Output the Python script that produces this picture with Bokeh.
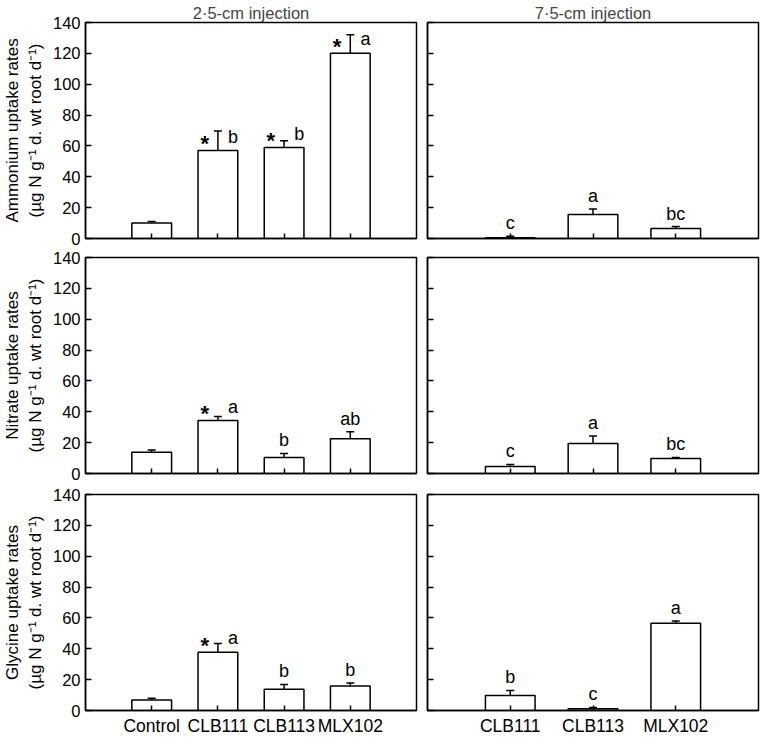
from bokeh.plotting import figure
from bokeh.models import ColumnDataSource, FixedTicker, Whisker, TeeHead, Range1d
from bokeh.layouts import column, row
from bokeh.embed import file_html
from bokeh.resources import INLINE
from bokeh.core.properties import value

# ---------------- data ----------------
categories_25 = ["Control", "CLB111", "CLB113", "MLX102"]
categories_75 = ["CLB111", "CLB113", "MLX102"]
y_ticks = [0, 20, 40, 60, 80, 100, 120, 140]

ammonium_25 = [10.0, 57.0, 59.0, 120.0]
ammonium_25_se = [1.0, 12.6, 4.3, 12.0]
ammonium_25_letters = ["", "b", "b", "a"]
ammonium_25_stars = [False, True, True, True]

ammonium_75 = [0.5, 15.5, 6.5]
ammonium_75_se = [1.0, 3.6, 1.2]
ammonium_75_letters = ["c", "a", "bc"]

nitrate_25 = [13.7, 34.4, 10.3, 22.5]
nitrate_25_se = [1.5, 2.6, 2.6, 4.5]
nitrate_25_letters = ["", "a", "b", "ab"]
nitrate_25_stars = [False, True, False, False]

nitrate_75 = [4.5, 19.5, 9.7]
nitrate_75_se = [1.3, 4.8, 0.6]
nitrate_75_letters = ["c", "a", "bc"]

glycine_25 = [6.8, 37.7, 13.7, 15.8]
glycine_25_se = [1.1, 5.7, 3.2, 2.1]
glycine_25_letters = ["", "a", "b", "b"]
glycine_25_stars = [False, True, False, False]

glycine_75 = [9.8, 1.1, 56.6]
glycine_75_se = [3.2, 0.8, 1.4]
glycine_75_letters = ["b", "c", "a"]

titles = ["2\u00b75-cm injection", "7\u00b75-cm injection"]
unit_line = "(\u00b5g N g\u207b\u00b9 d. wt root d\u207b\u00b9)"
y_labels = ["Ammonium uptake rates", "Nitrate uptake rates", "Glycine uptake rates"]

FONT = "Liberation Sans"


def panel(cats, vals, ses, letters, stars, left, top_row, bottom_row, ylabel=None, title=None):
    n = len(cats)
    xs = list(range(1, n + 1))
    p = figure(
        output_backend="svg", toolbar_location=None,
        frame_width=331, frame_height=216,
        x_range=Range1d(0, n + 1), y_range=Range1d(0, 140),
        min_border_left=76 if left else 6,
        min_border_right=5 if left else 7,
        min_border_top=20 if top_row else (11 if bottom_row else 10),
        min_border_bottom=25 if bottom_row else (9 if top_row else 10),
        background_fill_color="white", border_fill_color="white",
    )
    p.xgrid.visible = False
    p.ygrid.visible = False
    p.outline_line_color = "black"
    p.outline_line_width = 1.5
    p.outline_line_alpha = 1.0

    if title:
        p.title.text = title
        p.title.text_font = FONT
        p.title.text_font_size = "16.5px"
        p.title.text_font_style = "normal"
        p.title.align = "center"
        p.title.standoff = 2
        p.title.offset = 0

    # y axis
    ya = p.yaxis[0]
    ya.ticker = FixedTicker(ticks=y_ticks)
    ya.major_tick_in = 6
    ya.major_tick_out = 0
    ya.minor_tick_line_color = None
    ya.axis_line_color = "black"
    ya.axis_line_width = 1.5
    ya.major_tick_line_color = "black"
    ya.major_tick_line_width = 1.5
    ya.major_label_text_font = FONT
    ya.major_label_text_font_size = "16.5px"
    ya.major_label_text_color = "black"
    if left:
        ya.major_label_standoff = 5
        ya.axis_label = ylabel
        ya.axis_label_text_font = FONT
        ya.axis_label_text_font_size = "17px"
        ya.axis_label_text_font_style = "normal"
        ya.axis_label_text_color = "black"
        ya.axis_label_standoff = 5
    else:
        ya.major_label_standoff = 0
        ya.major_label_overrides = {t: "" for t in y_ticks}

    # x axis
    xa = p.xaxis[0]
    xa.ticker = FixedTicker(ticks=xs)
    xa.major_tick_in = 5
    xa.major_tick_out = 0
    xa.minor_tick_line_color = None
    xa.axis_line_color = "black"
    xa.axis_line_width = 1.5
    xa.major_tick_line_color = "black"
    xa.major_tick_line_width = 1.5
    xa.major_label_text_font = FONT
    xa.major_label_text_font_size = "17.5px"
    xa.major_label_text_color = "black"
    if bottom_row:
        xa.major_label_standoff = 5
        xa.major_label_overrides = {x: c for x, c in zip(xs, cats)}
    else:
        xa.major_label_standoff = 0
        xa.major_label_overrides = {x: "" for x in xs}

    upper = [v + s for v, s in zip(vals, ses)]
    src = ColumnDataSource(dict(x=xs, top=vals, upper=upper))
    p.vbar(x="x", top="top", bottom=0, width=0.6, source=src,
           fill_color="white", line_color="black", line_width=1.5)
    w = Whisker(base="x", lower="top", upper="upper", source=src,
                line_color="black", line_width=1.5,
                upper_head=TeeHead(size=8, line_color="black", line_width=1.5),
                lower_head=None)
    p.add_layout(w)

    # significance letters and stars
    lx, ly, lt, sx, sy = [], [], [], [], []
    for i, (x, v, u, L) in enumerate(zip(xs, vals, upper, letters)):
        starred = bool(stars[i]) if stars else False
        if starred:
            sx.append(x - 0.2)
            sy.append(v + 4.5)
            if L:
                lx.append(x + 0.23)
                ly.append(v + 9.0)
                lt.append(L)
        elif L:
            lx.append(x)
            ly.append(u + 8.5)
            lt.append(L)
    if lt:
        p.text(x="x", y="y", text="t", source=ColumnDataSource(dict(x=lx, y=ly, t=lt)),
               text_font=value(FONT), text_font_size="18px", text_color="black",
               text_align="center", text_baseline="middle")
    if sx:
        p.text(x="x", y="y", text="t",
               source=ColumnDataSource(dict(x=sx, y=sy, t=["*"] * len(sx))),
               text_font=value(FONT), text_font_size="22px", text_font_style="bold",
               text_color="black", text_align="center", text_baseline="middle")
    return p


p11 = panel(categories_25, ammonium_25, ammonium_25_se, ammonium_25_letters, ammonium_25_stars,
            True, True, False, y_labels[0] + "\n" + unit_line, titles[0])
p12 = panel(categories_75, ammonium_75, ammonium_75_se, ammonium_75_letters, None,
            False, True, False, None, titles[1])
p21 = panel(categories_25, nitrate_25, nitrate_25_se, nitrate_25_letters, nitrate_25_stars,
            True, False, False, y_labels[1] + "\n" + unit_line)
p22 = panel(categories_75, nitrate_75, nitrate_75_se, nitrate_75_letters, None,
            False, False, False)
p31 = panel(categories_25, glycine_25, glycine_25_se, glycine_25_letters, glycine_25_stars,
            True, False, True, y_labels[2] + "\n" + unit_line)
p32 = panel(categories_75, glycine_75, glycine_75_se, glycine_75_letters, None,
            False, False, True)

layout = column(row(p11, p12), row(p21, p22), row(p31, p32))
open("out.html", "w").write(file_html(layout, INLINE))
